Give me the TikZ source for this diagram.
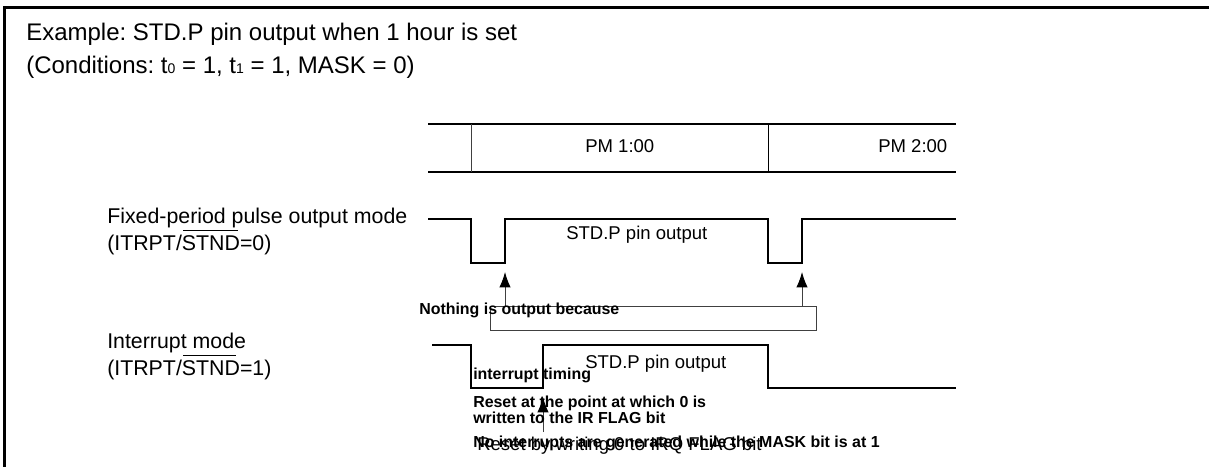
\documentclass[tikz,border=0pt]{standalone}
\usepackage{fontspec}
\setmainfont{Liberation Sans}
\frenchspacing
\usetikzlibrary{arrows.meta}
\tikzset{
	txttitle/.style={anchor=base west, inner sep=0pt, font=\fontsize{18}{21}\selectfont},
	txtbig/.style={anchor=base west, inner sep=0pt, font=\fontsize{16}{19}\selectfont},
	txtmid/.style={anchor=base west, inner sep=0pt, font=\fontsize{13.9}{16}\selectfont},
	txtbold/.style={anchor=base west, inner sep=0pt, font=\fontsize{11.95}{14}\selectfont\bfseries},
	wave/.style={black, line width=0.8pt},
	thin line/.style={black!75, line width=0.7pt},
	up arrow/.style={thin line, -{Latex[length=11.5pt, width=8.5pt, black]}}
}
\newcommand{\smallsub}[1]{{\fontsize{10.5}{10.5}\selectfont #1}}
\begin{document}
\begin{tikzpicture} [x=0.75pt, y=-0.75pt]
	\useasboundingbox (0, 0) rectangle (1209, 467);
	% frame
	\draw [black] [line width=2pt] (4.7, 467)--(4.7, 7.3)--(1209, 7.3);
	\node [txttitle] (title) at (26, 41) {Example: STD.P pin output when 1 hour is set};
	\node [txttitle] (cond) at (26, 74) {(Conditions: t\smallsub{0} = 1, t\smallsub{1} = 1, MASK = 0)};
	% time scale
	\draw [wave] (428, 124)--(956, 124);
	\draw [wave] (428, 172)--(956, 172);
	\draw [thin line] (471, 124)--(471, 172);
	\draw [black, line width=0.7pt] (768, 124)--(768, 172);
	\node [txtmid] (pmone) at (585, 152) {PM 1:00};
	\node [txtmid] (pmtwo) at (878, 152) {PM 2:00};
	% fixed-period
	\node [txtbig] (fixed) at (107, 223) {Fixed-period pulse output mode};
	\node [txtbig] (fixedcond) at (107, 250) {(ITRPT/STND=0)};
	\draw [black, line width=0.7pt] (183, 230)--(238, 230);
	\draw [wave] (428, 219)--(471, 219)--(471, 263)--(505, 263)--(505, 219)--(768, 219)--(768, 263)--(802, 263)--(802, 219)--(956, 219);
	\node [txtmid] (outa) at (566, 239) {STD.P pin output};
	% interrupt
	\node [txtbig] (intr) at (107, 348) {Interrupt mode};
	\node [txtbig] (intrcond) at (107, 375) {(ITRPT/STND=1)};
	\draw [black, line width=0.7pt] (183, 355)--(236, 355);
	\draw [wave] (432, 345)--(471, 345)--(471, 388)--(543, 388)--(543, 345)--(768, 345)--(768, 388)--(956, 388);
	\node [txtmid] (outb) at (585, 368) {STD.P pin output};
	% box and arrows
	\draw [thin line] (490, 306.5) rectangle (816.7, 330.5);
	\coordinate (boxa) at (505, 306.5);
	\coordinate (boxb) at (802, 306.5);
	\coordinate (tipa) at (505, 272);
	\coordinate (tipb) at (802, 272);
	\coordinate (tail) at (543, 432);
	\coordinate (tipc) at (543, 397);
	\draw [up arrow] (boxa)--(tipa);
	\draw [up arrow] (boxb)--(tipb);
	\draw [up arrow] (tail)--(tipc);
	% notes
	\node [txtbold] (nothing) at (419, 314) {Nothing is output because};
	\node [txtbold] (timing) at (473, 379) {interrupt timing};
	\node [txtbold] (reseta) at (473, 407) {Reset at the point at which 0 is};
	\node [txtbold] (resetb) at (473, 423) {written to the IR FLAG bit};
	\node [txtmid] (writing) at (477, 450) {Reset by writing 0 to IRQ FLAG bit};
	\node [txtbold] (noint) at (473, 447) {No interrupts are generated while the MASK bit is at 1};
\end{tikzpicture}
\end{document}
